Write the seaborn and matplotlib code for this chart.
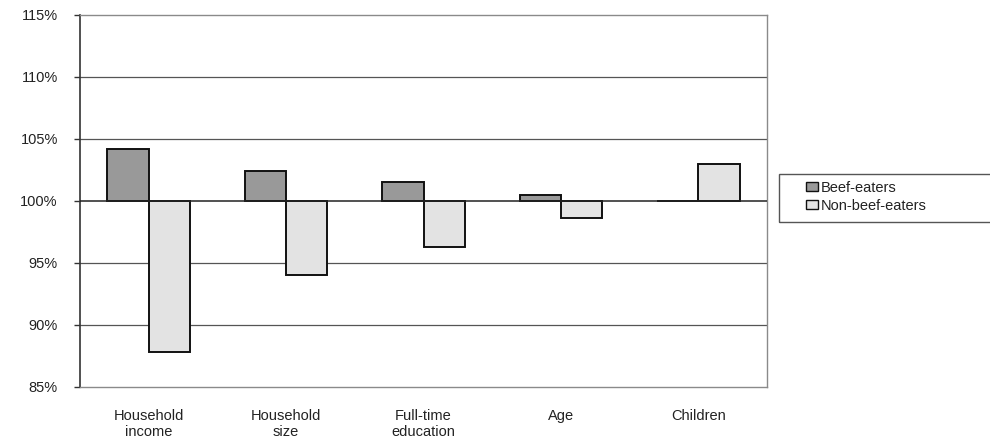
import matplotlib
matplotlib.use("Agg")
import matplotlib.pyplot as plt
import seaborn as sns
import pandas as pd
from matplotlib.ticker import FuncFormatter, FixedLocator
from matplotlib.patches import Rectangle

categories = ["Household\nincome", "Household\nsize", "Full-time\neducation", "Age", "Children"]
series = ["Beef-eaters", "Non-beef-eaters"]
beef_eaters = [104.2, 102.4, 101.5, 100.5, 100.0]
non_beef_eaters = [87.85, 94.05, 96.25, 98.6, 103.0]
y_ticks = [85, 90, 95, 100, 105, 110, 115]
baseline = 100
colors = {"Beef-eaters": "#999999", "Non-beef-eaters": "#e3e3e3"}

rows = []
for c, b, n in zip(categories, beef_eaters, non_beef_eaters):
    rows.append({"category": c, "series": series[0], "value": b, "diff": b - baseline})
    rows.append({"category": c, "series": series[1], "value": n, "diff": n - baseline})
df = pd.DataFrame(rows)

sns.set_theme(style="white")
plt.rcParams["font.family"] = ["Liberation Sans", "DejaVu Sans"]

W, H = 990, 441
fig = plt.figure(figsize=(9.9, 4.41), dpi=100)
ax = fig.add_axes([80 / W, 1 - 387 / H, (767 - 80) / W, (387 - 15) / H])

sns.barplot(data=df, x="category", y="diff", hue="series", order=categories,
            hue_order=series, palette=colors, width=0.6, edgecolor="#111111",
            linewidth=1.4, ax=ax, saturation=1, legend=True, zorder=3)

ax.set_ylim(y_ticks[0] - baseline, y_ticks[-1] - baseline)
ax.yaxis.set_major_locator(FixedLocator([t - baseline for t in y_ticks]))
ax.yaxis.set_major_formatter(FuncFormatter(lambda v, p: f"{v + baseline:.0f}%"))
for t in y_ticks:
    if t == baseline:
        ax.axhline(t - baseline, color="#222222", lw=1.1, zorder=4)
    elif t not in (y_ticks[0], y_ticks[-1]):
        ax.axhline(t - baseline, color="#555555", lw=0.9, zorder=1)
ax.set_xlim(-0.5, len(categories) - 0.5)
ax.set_xlabel("")
ax.set_ylabel("")

for side in ["top", "bottom", "right"]:
    ax.spines[side].set_color("#8a8a8a")
    ax.spines[side].set_linewidth(1.0)
ax.spines["left"].set_color("#333333")
ax.spines["left"].set_linewidth(1.2)

ax.tick_params(axis="y", which="major", left=True, length=4, width=1, color="#333333",
               labelsize=10.5, pad=12, labelcolor="#222222")
ax.tick_params(axis="x", bottom=False, labelsize=10.5, pad=10, labelcolor="#222222")
for lbl in ax.get_xticklabels():
    lbl.set_linespacing(1.15)

handles, labels = ax.get_legend_handles_labels()
ax.legend_.remove()
# legend frame drawn as a figure rectangle; it runs past the right edge as in the reference
fig.patches.append(Rectangle((779 / W, 1 - 222 / H), (995 - 779) / W, (222 - 174) / H,
                             transform=fig.transFigure, fill=False, edgecolor="#555555",
                             linewidth=1.0))
leg = fig.legend(handles, labels, loc="upper left", bbox_to_anchor=(803 / W, 1 - 178 / H),
                 frameon=False, fontsize=10.5,
                 handlelength=0.85, handleheight=0.6, handletextpad=0.15, labelspacing=0.25,
                 borderpad=0.2, borderaxespad=0)
leg._legend_box.align = "left"
for h in leg.legend_handles:
    h.set_edgecolor("#111111")
    h.set_linewidth(1.0)
for t in leg.get_texts():
    t.set_color("#222222")

fig.savefig("out.png", dpi=100)
